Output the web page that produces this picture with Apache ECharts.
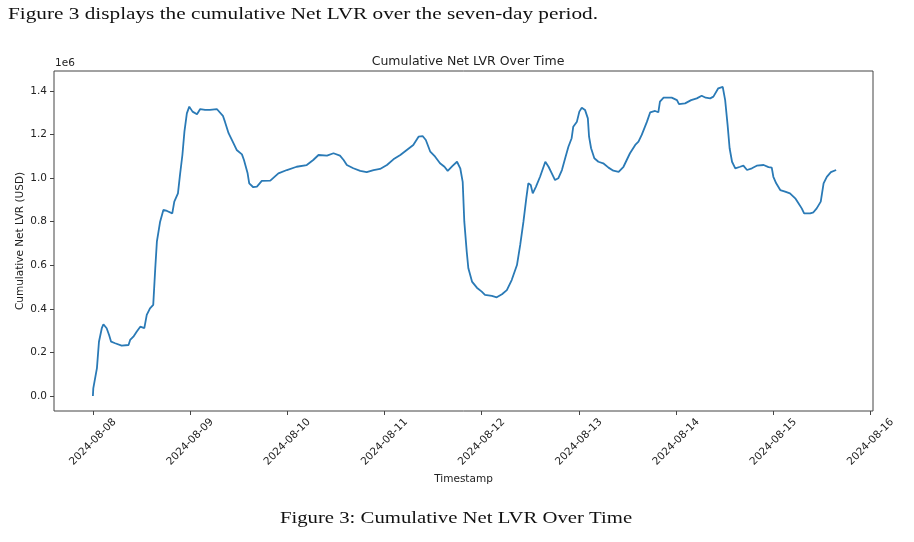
<!DOCTYPE html>
<html>
<head>
<meta charset="utf-8">
<script src="https://cdn.jsdelivr.net/npm/echarts@6/dist/echarts.min.js"></script>
<style>
html,body{margin:0;padding:0;background:#fff;}
#chart{width:914px;height:542px;}
</style>
</head>
<body>
<div id="chart"></div>
<script>
// Hours elapsed since 2024-08-08 00:00
const hours = [
  0, 0.1, 1.0, 1.5, 2.2, 2.6, 3.4, 4.0, 4.5, 5.5, 7.1, 8.8, 9.2, 10.0, 10.8, 11.7, 12.1, 12.7, 13.3, 14.1,
  14.9, 15.4, 15.8, 16.6, 17.4, 18.3, 19.6, 20.1, 21.0, 21.5, 22.1, 22.6, 23.2, 23.8, 24.6, 25.7, 26.5, 27.7, 28.9, 30.6,
  32.1, 32.6, 33.5, 34.7, 35.5, 36.8, 37.3, 38.2, 38.6, 39.6, 40.5, 41.7, 43.8, 45.8, 47.9, 50.3, 52.8, 54.4, 55.7, 57.8,
  59.4, 61.0, 61.9, 62.7, 64.3, 66.0, 67.6, 69.3, 70.9, 72.6, 74.2, 75.9, 77.5, 79.1, 80.4, 81.4, 82.2, 83.3, 84.5, 85.7,
  86.8, 87.6, 88.8, 89.9, 90.7, 91.3, 91.7, 92.3, 92.7, 93.6, 94.8, 96.0, 96.8, 98.5, 99.7, 101.0, 102.2, 103.4, 104.7, 105.5,
  106.3, 107.0, 107.5, 108.1, 108.6, 109.4, 110.4, 111.7, 112.5, 113.3, 114.1, 114.9, 115.8, 116.6, 117.4, 118.2, 118.6, 119.5, 120.1, 120.7,
  121.5, 122.2, 122.5, 123.0, 123.8, 124.8, 126.0, 127.3, 128.5, 129.8, 131.0, 131.8, 132.6, 133.9, 134.7, 135.5, 136.8, 137.6, 138.8, 139.6,
  140.0, 140.9, 142.9, 144.2, 144.7, 146.2, 147.7, 149.1, 150.3, 151.3, 152.4, 153.2, 154.4, 155.5, 156.1, 156.7, 157.2, 157.8, 158.6, 159.8,
  160.6, 161.5, 162.7, 163.9, 165.6, 166.8, 167.6, 168.0, 168.7, 169.7, 170.9, 172.1, 173.4, 174.2, 175.0, 175.6, 177.1, 177.9, 178.7, 179.7,
  180.4, 181.2, 182.2, 183.5
];
// Cumulative Net LVR (USD)
const netLvr = [
  0, 35000, 128000, 249000, 311000, 329000, 311000, 280000, 249000, 242000, 231000, 234000, 257000, 272000, 295000, 318000, 311000, 311000, 372000, 402000,
  418000, 586000, 708000, 800000, 854000, 849000, 838000, 892000, 930000, 1014000, 1106000, 1213000, 1297000, 1328000, 1305000, 1293000, 1317000, 1313000, 1313000, 1317000,
  1286000, 1259000, 1206000, 1160000, 1129000, 1109000, 1083000, 1022000, 976000, 958000, 961000, 987000, 988000, 1022000, 1037000, 1052000, 1060000, 1083000, 1106000, 1103000,
  1114000, 1103000, 1083000, 1060000, 1045000, 1033000, 1027000, 1037000, 1042000, 1060000, 1086000, 1106000, 1129000, 1152000, 1190000, 1193000, 1175000, 1121000, 1098000, 1068000,
  1052000, 1033000, 1056000, 1075000, 1045000, 983000, 800000, 662000, 586000, 525000, 497000, 479000, 464000, 459000, 453000, 467000, 486000, 532000, 601000, 693000,
  800000, 907000, 976000, 968000, 930000, 961000, 1006000, 1075000, 1052000, 1022000, 991000, 999000, 1037000, 1091000, 1144000, 1183000, 1236000, 1259000, 1305000, 1323000,
  1313000, 1274000, 1190000, 1137000, 1091000, 1075000, 1068000, 1048000, 1034000, 1029000, 1052000, 1083000, 1114000, 1152000, 1167000, 1198000, 1259000, 1302000, 1308000, 1302000,
  1351000, 1369000, 1369000, 1358000, 1339000, 1343000, 1358000, 1366000, 1378000, 1369000, 1366000, 1374000, 1412000, 1419000, 1358000, 1244000, 1137000, 1075000, 1045000, 1052000,
  1057000, 1037000, 1045000, 1057000, 1060000, 1050000, 1048000, 1006000, 976000, 945000, 938000, 930000, 907000, 884000, 861000, 838000, 838000, 843000, 861000, 892000,
  976000, 1006000, 1027000, 1037000
];
const xTickLabels = ['2024-08-08','2024-08-09','2024-08-10','2024-08-11','2024-08-12','2024-08-13','2024-08-14','2024-08-15','2024-08-16'];
const yTickLabels = ['0.0','0.2','0.4','0.6','0.8','1.0','1.2','1.4'];
const yTickValues = [0, 200000, 400000, 600000, 800000, 1000000, 1200000, 1400000];

const xTickValues = xTickLabels.map((_, i) => i * 24);
const X_MIN = -9.6, X_MAX = 192.6;
const sans = 'DejaVu Sans';
const txt = '#222';

const chart = echarts.init(document.getElementById('chart'));
chart.setOption({
  animation: false,
  backgroundColor: '#fff',
  title: {
    text: 'Cumulative Net LVR Over Time',
    left: 463, top: 50, textAlign: 'center',
    textStyle: {fontFamily: sans, fontSize: 12.5, fontWeight: 'normal', color: txt}
  },
  graphic: [
    {type: 'text', x: 8, y: 15, scaleX: 1.25,
     style: {text: 'Figure 3 displays the cumulative Net LVR over the seven-day period.', font: '17px "Liberation Serif"', fill: '#111', textAlign: 'left', textVerticalAlign: 'middle'}},
    {type: 'text', x: 456, y: 519, scaleX: 1.22,
     style: {text: 'Figure 3: Cumulative Net LVR Over Time', font: '17px "Liberation Serif"', fill: '#111', textAlign: 'center', textVerticalAlign: 'middle'}},
    {type: 'text', left: 55, top: 58, style: {text: '1e6', font: '10.5px "DejaVu Sans"', fill: txt}}
  ],
  grid: {left: 54, right: 41, top: 71, bottom: 131, show: true, borderColor: '#444', borderWidth: 1, backgroundColor: 'transparent'},
  xAxis: {
    type: 'value', min: X_MIN, max: X_MAX,
    axisLine: {show: false, onZero: false}, splitLine: {show: false},
    axisTick: {show: true, length: 4, customValues: xTickValues, lineStyle: {color: '#444'}},
    axisLabel: {
      customValues: xTickValues, rotate: 45, margin: 31, align: 'center', verticalAlign: 'middle',
      formatter: v => xTickLabels[Math.round(v / 24)],
      fontFamily: sans, fontSize: 10.5, color: txt
    },
    name: 'Timestamp', nameLocation: 'middle', nameGap: 63, nameMoveOverlap: false,
    nameTextStyle: {fontFamily: sans, fontSize: 10.5, color: txt}
  },
  yAxis: {
    type: 'value', min: -69000, max: 1491500,
    axisLine: {show: false, onZero: false}, splitLine: {show: false},
    axisTick: {show: true, length: 4, customValues: yTickValues, lineStyle: {color: '#444'}},
    axisLabel: {
      customValues: yTickValues, margin: 7,
      formatter: v => yTickLabels[Math.round(v / 200000)],
      fontFamily: sans, fontSize: 10.5, color: txt
    },
    name: 'Cumulative Net LVR (USD)', nameLocation: 'middle', nameGap: 28, nameMoveOverlap: false,
    nameTextStyle: {fontFamily: sans, fontSize: 10.5, color: txt}
  },
  series: [{
    type: 'line',
    data: hours.map((h, i) => [h, netLvr[i]]),
    showSymbol: false, smooth: false,
    lineStyle: {color: '#2a7ab6', width: 1.8},
    silent: true
  }]
});
</script>
</body>
</html>
